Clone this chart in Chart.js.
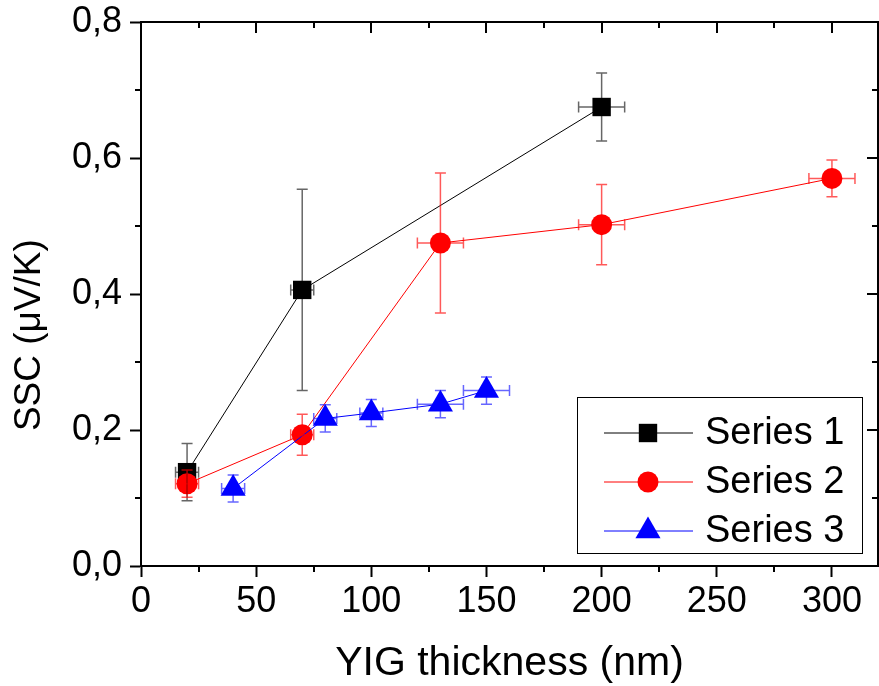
<!DOCTYPE html>
<html><head><meta charset="utf-8">
<script src="https://cdn.jsdelivr.net/npm/chart.js@4/dist/chart.umd.min.js"></script>
<style>html,body{margin:0;padding:0;background:#fff;}#wrap{width:879px;height:686px;}</style>
</head><body><div id="wrap"><canvas id="c" width="879" height="686"></canvas></div>
<script>
// ---- data ----
const seriesNames = ['Series 1', 'Series 2', 'Series 3'];
const s1X = [20, 70, 200];
const s1Y = [0.138, 0.406, 0.675];
const s1YErr = [0.042, 0.148, 0.050];
const s1XErr = [5, 5, 10];
const s2X = [20, 70, 130, 200, 300];
const s2Y = [0.121, 0.193, 0.475, 0.502, 0.570];
const s2YErr = [0.020, 0.030, 0.103, 0.059, 0.027];
const s2XErr = [5, 5, 10, 10, 10];
const s3X = [40, 80, 100, 130, 150];
const s3Y = [0.114, 0.217, 0.225, 0.238, 0.258];
const s3YErr = [0.020, 0.020, 0.020, 0.020, 0.020];
const s3XErr = [5, 5, 5, 10, 10];
const xTickValues = [0, 50, 100, 150, 200, 250, 300];
const xTickLabels = ['0', '50', '100', '150', '200', '250', '300'];
const yTickValues = [0, 0.2, 0.4, 0.6, 0.8];
const yTickLabels = ['0,0', '0,2', '0,4', '0,6', '0,8'];
const xTitle = 'YIG thickness (nm)';
const yTitle = 'SSC (μV/K)';

function pts(xs, ys, exs, eys) {
  return xs.map((x, i) => ({ x: x, y: ys[i], ex: exs[i], ey: eys[i] }));
}

const FONT = '"Liberation Sans", Arial, sans-serif';

const errorBars = {
  id: 'errorBars',
  afterDatasetsDraw(chart) {
    const ctx = chart.ctx, xs = chart.scales.x, ys = chart.scales.y;
    [0, 1, 2].forEach(i => {
      const ds = chart.data.datasets[i];
      ctx.save();
      ctx.strokeStyle = ds.errColor;
      ctx.lineWidth = 1.5;
      const cap = 5.5;
      ds.data.forEach(p => {
        const px = xs.getPixelForValue(p.x), py = ys.getPixelForValue(p.y);
        const yT = ys.getPixelForValue(p.y + p.ey), yB = ys.getPixelForValue(p.y - p.ey);
        const xL = xs.getPixelForValue(p.x - p.ex), xR = xs.getPixelForValue(p.x + p.ex);
        ctx.beginPath();
        ctx.moveTo(px, yT); ctx.lineTo(px, yB);
        ctx.moveTo(px - cap, yT); ctx.lineTo(px + cap, yT);
        ctx.moveTo(px - cap, yB); ctx.lineTo(px + cap, yB);
        ctx.moveTo(xL, py); ctx.lineTo(xR, py);
        ctx.moveTo(xL, py - cap); ctx.lineTo(xL, py + cap);
        ctx.moveTo(xR, py - cap); ctx.lineTo(xR, py + cap);
        ctx.stroke();
      });
      ctx.restore();
    });
  }
};

const frame = {
  id: 'frame',
  afterDraw(chart) {
    const ctx = chart.ctx, a = chart.chartArea, xs = chart.scales.x, ys = chart.scales.y;
    ctx.save();
    ctx.strokeStyle = '#000';
    ctx.lineWidth = 2;
    ctx.strokeRect(a.left, a.top, a.right - a.left, a.bottom - a.top);
    ctx.beginPath();
    const xStep = xTickValues[1] - xTickValues[0];
    for (let v = xs.min; v <= xs.max + 1e-9; v += xStep / 2) {
      const px = Math.round(xs.getPixelForValue(v));
      const major = Math.abs(v / xStep - Math.round(v / xStep)) < 1e-6;
      if (!major) { ctx.moveTo(px, a.bottom); ctx.lineTo(px, a.bottom + 6); }
      ctx.moveTo(px, a.top); ctx.lineTo(px, a.top + (major ? 11 : 6));
    }
    const yStep = yTickValues[1] - yTickValues[0];
    for (let k = 0; k <= Math.round((ys.max - ys.min) / (yStep / 2)); k++) {
      const v = ys.min + k * yStep / 2;
      const py = Math.round(ys.getPixelForValue(v));
      const major = k % 2 === 0;
      if (!major) { ctx.moveTo(a.left, py); ctx.lineTo(a.left - 6, py); }
      ctx.moveTo(a.right, py); ctx.lineTo(a.right - (major ? 11 : 6), py);
    }
    ctx.stroke();

    // legend
    const L = { x: 577.5, y: 397.5, w: 285, h: 156, lineX0: 604, lineX1: 693, mx: 648, tx: 705, y0: 433, dy: 49 };
    ctx.lineWidth = 1;
    ctx.strokeStyle = '#000';
    ctx.strokeRect(L.x, L.y, L.w, L.h);
    chart.data.datasets.forEach((ds, i) => {
      const yy = L.y0 + i * L.dy;
      ctx.beginPath();
      ctx.strokeStyle = ds.borderColor;
      ctx.lineWidth = 1;
      ctx.moveTo(L.lineX0, yy); ctx.lineTo(L.lineX1, yy);
      ctx.stroke();
      ctx.fillStyle = ds.pointBackgroundColor;
      ctx.strokeStyle = ds.pointBackgroundColor;
      Chart.helpers.drawPoint(ctx, { pointStyle: ds.pointStyle, radius: ds.pointRadius, rotation: 0, borderWidth: 0 }, L.mx, yy);
      ctx.fillStyle = '#000';
      ctx.font = '38px ' + FONT;
      ctx.textBaseline = 'middle';
      ctx.textAlign = 'left';
      ctx.fillText(ds.label, L.tx, yy + 1);
    });
    ctx.restore();
  }
};

new Chart(document.getElementById('c'), {
  type: 'scatter',
  data: {
    datasets: [
      { label: seriesNames[0], data: pts(s1X, s1Y, s1XErr, s1YErr), showLine: true, borderColor: '#000000', borderWidth: 1,
        pointStyle: 'rect', pointRadius: 13, pointBackgroundColor: '#000000', pointBorderWidth: 0, errColor: 'rgba(0,0,0,0.6)', order: 2 },
      { label: seriesNames[1], data: pts(s2X, s2Y, s2XErr, s2YErr), showLine: true, borderColor: '#ff0000', borderWidth: 1,
        pointStyle: 'circle', pointRadius: 10.5, pointBackgroundColor: '#ff0000', pointBorderWidth: 0, errColor: 'rgba(255,0,0,0.65)', order: 1 },
      { label: seriesNames[2], data: pts(s3X, s3Y, s3XErr, s3YErr), showLine: true, borderColor: '#0000ff', borderWidth: 1,
        pointStyle: 'triangle', pointRadius: 14.5, pointBackgroundColor: '#0000ff', pointBorderWidth: 0, errColor: 'rgba(0,0,255,0.6)', order: 0 }
    ]
  },
  options: {
    responsive: false,
    animation: false,
    devicePixelRatio: 1,
    layout: { autoPadding: false, padding: { top: 22, right: 1, bottom: 0, left: 0 } },
    plugins: { legend: { display: false }, tooltip: { enabled: false } },
    elements: { line: { tension: 0 } },
    scales: {
      x: {
        type: 'linear', min: 0, max: 320,
        afterBuildTicks(scale) { scale.ticks = xTickValues.map(v => ({ value: v })); },
        afterFit(scale) { scale.height = 120; scale.paddingLeft = 0; scale.paddingRight = 0; },
        ticks: { callback: (v, i) => xTickLabels[i], color: '#000', font: { family: FONT, size: 36 }, padding: 3, maxRotation: 0, autoSkip: false },
        grid: { display: true, drawOnChartArea: false, drawTicks: true, tickLength: 11, tickWidth: 2, tickColor: '#000' },
        border: { display: true, width: 2, color: '#000' },
        title: { display: true, text: xTitle, color: '#000', font: { family: FONT, size: 41 }, padding: { top: 0, bottom: -2 } }
      },
      y: {
        type: 'linear', min: 0, max: 0.8,
        afterBuildTicks(scale) { scale.ticks = yTickValues.map(v => ({ value: v })); },
        afterFit(scale) { scale.width = 141; scale.paddingTop = 0; scale.paddingBottom = 0; },
        ticks: { callback: (v, i) => yTickLabels[i], color: '#000', font: { family: FONT, size: 36 }, padding: 8, autoSkip: false },
        grid: { display: true, drawOnChartArea: false, drawTicks: true, tickLength: 11, tickWidth: 2, tickColor: '#000' },
        border: { display: true, width: 2, color: '#000' },
        title: { display: true, text: yTitle + '\u00A0\u00A0\u00A0\u00A0\u00A0\u00A0\u00A0\u00A0', color: '#000', font: { family: FONT, size: 37 }, padding: { top: 8, bottom: 0 } }
      }
    }
  },
  plugins: [errorBars, frame]
});
</script>
</body></html>
